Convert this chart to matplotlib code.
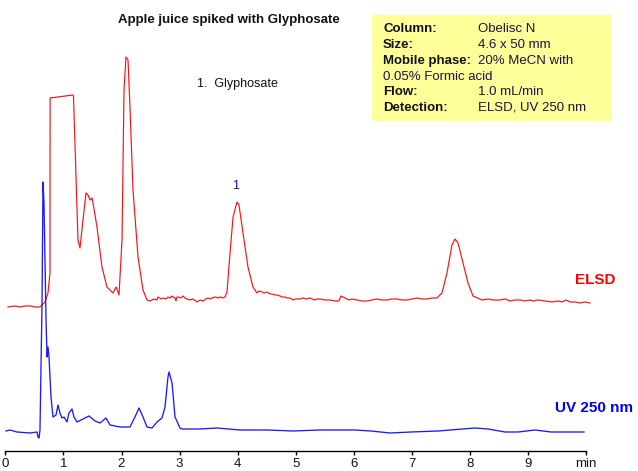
import matplotlib
matplotlib.use("Agg")
import matplotlib.pyplot as plt
from matplotlib.patches import Rectangle

plt.rcParams['font.family'] = ['Liberation Sans', 'DejaVu Sans']

# ELSD trace (time in min, signal in arbitrary units)
elsd_t = [0.046, 0.166, 0.252, 0.339, 0.425, 0.511, 0.597, 0.683, 0.735, 0.769, 0.771,
          1.165, 1.174, 1.251, 1.286, 1.337, 1.389, 1.423, 1.458, 1.492, 1.510, 1.578,
          1.664, 1.750, 1.854, 1.905, 1.923, 1.957, 2.009, 2.043, 2.077, 2.112, 2.146,
          2.198, 2.284, 2.370, 2.439, 2.491, 2.559, 2.611, 2.628, 2.680, 2.714, 2.766,
          2.800, 2.835, 2.869, 2.886, 2.921, 2.938, 2.955, 2.972, 3.024, 3.059, 3.093,
          3.127, 3.179, 3.230, 3.299, 3.351, 3.403, 3.454, 3.489, 3.523, 3.558, 3.610,
          3.661, 3.695, 3.747, 3.781, 3.816, 3.868, 3.920, 3.988, 4.022, 4.091, 4.177,
          4.263, 4.298, 4.332, 4.367, 4.418, 4.453, 4.504, 4.556, 4.590, 4.642, 4.676,
          4.728, 4.762, 4.814, 4.848, 4.900, 4.952, 5.003, 5.072, 5.124, 5.175, 5.244,
          5.313, 5.365, 5.416, 5.502, 5.588, 5.674, 5.743, 5.778, 5.847, 5.915, 5.967,
          6.053, 6.139, 6.225, 6.311, 6.398, 6.484, 6.570, 6.656, 6.742, 6.828, 6.914,
          7.000, 7.086, 7.172, 7.258, 7.344, 7.430, 7.516, 7.602, 7.688, 7.740, 7.792,
          7.878, 7.964, 8.050, 8.205, 8.308, 8.394, 8.515, 8.601, 8.687, 8.773, 8.859,
          8.945, 9.031, 9.083, 9.169, 9.289, 9.410, 9.513, 9.582, 9.651, 9.720, 9.808,
          9.892, 9.978, 10.064]
elsd_s = [3, 4, 3, 4, 4, 3, 3, 8, 17, 37, 212,
          215, 213, 70, 62, 90, 117, 115, 110, 112, 107, 83,
          43, 23, 17, 23, 21, 15, 70, 220, 253, 250, 203,
          120, 53, 20, 10, 9, 11, 10, 13, 11, 12, 11,
          13, 12, 14, 13, 12, 9, 13, 13, 12, 14, 12,
          11, 10, 11, 8, 10, 9, 11, 12, 11, 12, 13,
          12, 13, 12, 13, 18, 57, 93, 108, 105, 77, 43,
          23, 20, 17, 19, 18, 17, 18, 16, 16, 15, 15,
          14, 13, 13, 12, 12, 10, 11, 11, 12, 11, 12,
          10, 11, 11, 10, 10, 9, 9, 14, 12, 10, 11,
          10, 9, 9, 10, 11, 10, 10, 11, 11, 10, 10,
          11, 12, 11, 11, 12, 12, 17, 37, 65, 71, 67,
          47, 27, 14, 10, 11, 10, 10, 11, 9, 10, 10,
          9, 10, 9, 10, 9, 8, 9, 8, 10, 8, 8,
          7, 8, 7]

# UV 250 nm trace
uv_t = [0.012, 0.081, 0.201, 0.425, 0.546, 0.563, 0.580, 0.597, 0.632, 0.649, 0.666,
        0.701, 0.718, 0.735, 0.752, 0.787, 0.821, 0.873, 0.907, 0.941, 0.976, 1.010,
        1.062, 1.096, 1.148, 1.182, 1.234, 1.337, 1.441, 1.544, 1.630, 1.733, 1.802,
        1.974, 2.146, 2.232, 2.301, 2.370, 2.439, 2.525, 2.611, 2.697, 2.749, 2.800,
        2.818, 2.870, 2.921, 3.007, 3.041, 3.351, 3.644, 4.040, 4.504, 4.952, 5.416,
        6.019, 6.294, 6.621, 6.982, 7.447, 8.084, 8.308, 8.601, 8.825, 9.117, 9.392,
        9.960]
uv_s = [9, 10, 8, 7, 8, 3, 2, 10, 137, 258, 237,
        120, 83, 93, 83, 43, 23, 25, 35, 27, 22, 23,
        18, 27, 31, 23, 18, 21, 24, 19, 17, 22, 15,
        13, 13, 23, 32, 23, 13, 12, 18, 22, 33, 63,
        68, 57, 23, 12, 11, 11, 12, 10, 10, 9, 10,
        10, 9, 7, 8, 9, 12, 11, 8, 8, 10, 8,
        8]

ticks = [0, 1, 2, 3, 4, 5, 6, 7, 8, 9, 10]
tick_labels = ['0', '1', '2', '3', '4', '5', '6', '7', '8', '9', 'min']

info_keys = ['Column:', 'Size:', 'Mobile phase:', '', 'Flow:', 'Detection:']
info_vals = ['Obelisc N', '4.6 x 50 mm', '20% MeCN with', '', '1.0 mL/min', 'ELSD, UV 250 nm']
info_extra = '0.05% Formic acid'

W, H = 638, 471
fig = plt.figure(figsize=(W / 100, H / 100), dpi=100)
ax = fig.add_axes([0, 0, 1, 1])
ax.set_facecolor('none')

# vertical offsets of the two traces
elsd_off = 161
uv_off = 31
ax.plot(elsd_t, [s + elsd_off for s in elsd_s], color='#ff1010', lw=0.85)
ax.plot(uv_t, [s + uv_off for s in uv_s], color='#1a1aff', lw=0.95)

ax.set_xlim(-5.3 / 58.1, (W - 5.3) / 58.1)
ax.set_ylim(0, H)

for side in ['top', 'right', 'left']:
    ax.spines[side].set_visible(False)
ax.spines['bottom'].set_position(('data', 20))
ax.spines['bottom'].set_bounds(0, 10)
ax.spines['bottom'].set_linewidth(1.0)
ax.set_yticks([])
ax.set_xticks(ticks)
ax.set_xticklabels(tick_labels)
ax.tick_params(axis='x', direction='out', length=3, width=1.0, pad=2,
               labelsize=9.5, labelcolor='#111111')


def fx(px):
    return px / W


def fy(py):
    return 1 - py / H


fig.text(fx(229), fy(20), 'Apple juice spiked with Glyphosate', ha='center', va='center',
         fontsize=9.5, fontweight='bold', color='#111111')
fig.text(fx(197), fy(84), '1.  Glyphosate', ha='left', va='center', fontsize=9, color='#111111')
fig.text(fx(236), fy(186), '1', ha='center', va='center', fontsize=9, color='#2a0a80')

fig.text(fx(575), fy(280), 'ELSD', ha='left', va='center', fontsize=11,
         fontweight='bold', color='#ff0000')
fig.text(fx(555), fy(408), 'UV 250 nm', ha='left', va='center', fontsize=11,
         fontweight='bold', color='#0000ff')

fig.patches.append(Rectangle((fx(372), fy(121)), 240 / W, 106 / H, transform=fig.transFigure,
                             facecolor='#ffff99', edgecolor='none', zorder=0))
rows = [29, 45, 61, 77, 92, 108]
for y, k, v in zip(rows, info_keys, info_vals):
    if k:
        fig.text(fx(383), fy(y), k, ha='left', va='center', fontsize=9.5,
                 fontweight='bold', color='#111111')
        fig.text(fx(478), fy(y), v, ha='left', va='center', fontsize=9.5, color='#22103a')
fig.text(fx(383), fy(rows[3]), info_extra, ha='left', va='center', fontsize=9.5, color='#22103a')

plt.savefig('out.png', dpi=100)
